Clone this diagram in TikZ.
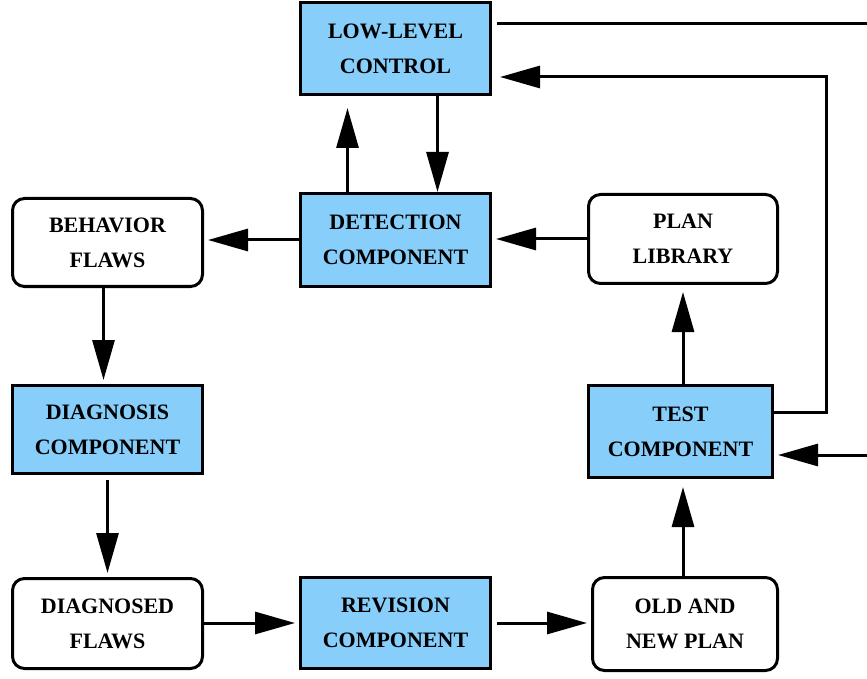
\documentclass[tikz,border=0pt]{standalone}
\usepackage{fontspec}
\setmainfont{Liberation Serif}
\usetikzlibrary{arrows.meta}
\definecolor{compblue}{RGB}{135,206,250}

\begin{document}
\begin{tikzpicture}[x=0.5pt,y=-0.5pt]
        \tikzstyle{box}=[draw,line width=1.5pt,align=center,inner sep=0pt,
        font=\bfseries\fontsize{11}{17.5}\selectfont,minimum width=95pt]
        \tikzstyle{comp}=[box,fill=compblue]
        \tikzstyle{data}=[box,rounded corners=6pt]
        \tikzstyle{flow}=[line width=1.5pt,-{Triangle[length=20pt,width=11pt]},shorten >=2pt]
        \useasboundingbox (0,0) rectangle (867,679);
        \node[comp,minimum height=46pt] (llc) at (395.5,48.5) {LOW-LEVEL\\CONTROL};
        \node[comp,minimum height=46.5pt] (det) at (395.5,240) {DETECTION\\COMPONENT};
        \node[data,minimum height=44pt] (beh) at (107.5,242.5) {BEHAVIOR\\FLAWS};
        \node[data,minimum height=44.5pt,minimum width=94.5pt] (plan) at (683,239) {PLAN\\LIBRARY};
        \node[comp,minimum height=44pt] (diag) at (107.5,429.5) {DIAGNOSIS\\COMPONENT};
        \node[comp,minimum height=46pt,minimum width=92pt] (test) at (680.5,431.5) {TEST\\COMPONENT};
        \node[data,minimum height=45pt] (dfl) at (107.5,623.5) {DIAGNOSED\\FLAWS};
        \node[comp,minimum height=45.5pt] (rev) at (395.5,623) {REVISION\\COMPONENT};
        \node[data,minimum height=46.5pt,minimum width=92.5pt] (old) at (685,624) {OLD AND\\NEW PLAN};
        \coordinate (out) at (867,24);
        \coordinate (inp) at (867,455);
        \coordinate (fb1) at (826,412);
        \coordinate (fb2) at (826,77);
        % links to and from the low-level control
        \draw[line width=1.5pt,shorten <=2.5pt] (llc.east |- out) -- (out);
        \draw[flow,shorten >=4pt] (test.east |- fb1) -| (fb2) -- (llc.east |- fb2);
        \draw[flow] (inp) -- (test.east |- inp);
        \draw[flow,shorten >=6pt] ([xshift=-24pt]det.north) -- ([xshift=-24pt]llc.south);
        \draw[flow,shorten >=0pt] ([xshift=21pt]llc.south) -- ([xshift=21pt]det.north);
        % the revision cycle
        \draw[flow] (det.west) -- (beh.east |- det.west);
        \draw[flow] (plan.west) -- (det.east |- plan.west);
        \draw[flow] ([xshift=-2pt]beh.south) -- ([xshift=-2pt]diag.north);
        \draw[flow,shorten <=2.5pt] (diag.south) -- (dfl.north);
        \draw[flow] (dfl.east |- rev.east) -- (rev.west);
        \draw[flow,shorten <=2.5pt] (rev.east) -- (old.west |- rev.east);
        \draw[flow,shorten >=4pt] (old.north -| plan.south) -- (test.south -| plan.south);
        \draw[flow,shorten >=3.5pt] (test.north -| plan.south) -- (plan.south);
      \end{tikzpicture}
\end{document}
